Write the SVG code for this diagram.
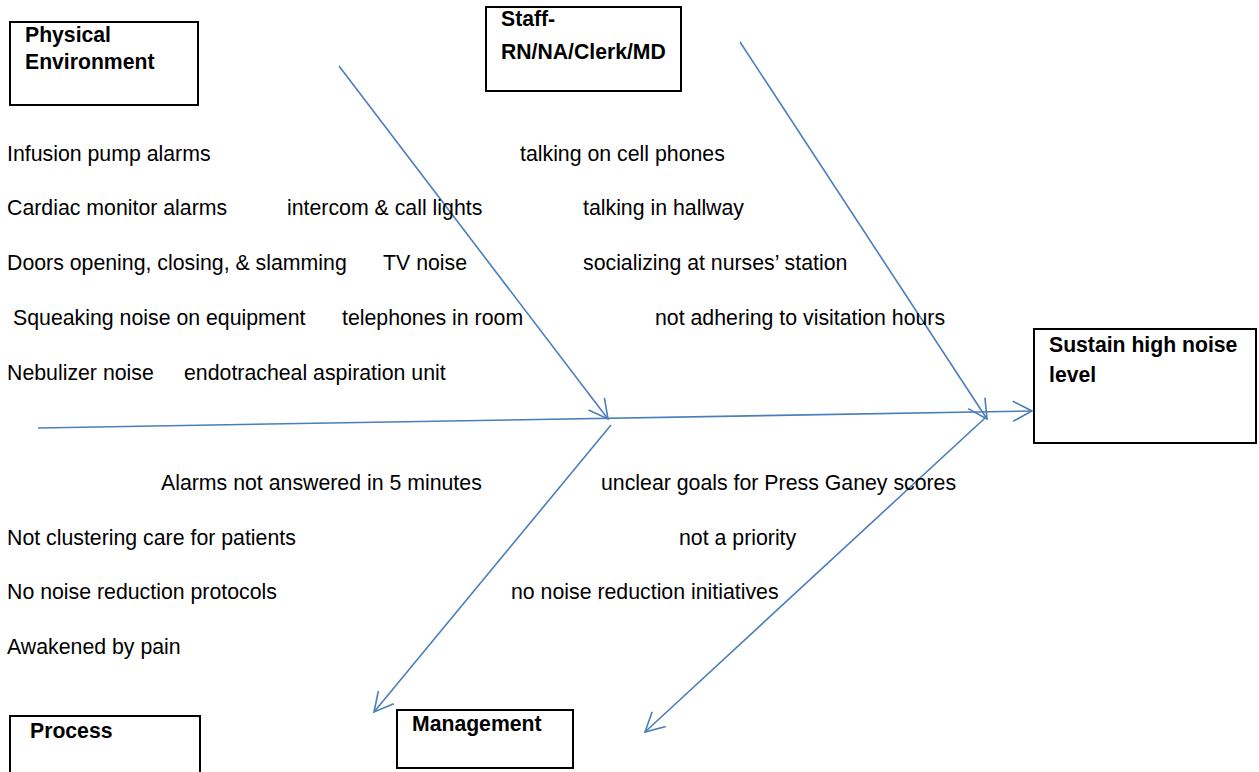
<svg xmlns="http://www.w3.org/2000/svg" width="1259" height="772" viewBox="0 0 1259 772">
<style>
.box{fill:#fff;stroke:#000;stroke-width:2}
.bl{font-family:"Liberation Sans",Arial,sans-serif;font-size:21.2px;font-weight:bold;fill:#000}
.t{font-family:"Liberation Sans",Arial,sans-serif;font-size:21.3px;fill:#000}
.ln{fill:none;stroke:#4a7ebb;stroke-width:1.6;marker-end:url(#arr)}
</style>
<defs>
<marker id="arr" viewBox="0 0 22 22" refX="21" refY="11" markerWidth="22" markerHeight="22" markerUnits="userSpaceOnUse" orient="auto">
<path d="M2,1 L21,11 L2,21" fill="none" stroke="#4a7ebb" stroke-width="1.6"/>
</marker>
</defs>
<rect width="1259" height="772" fill="#fff"/>
<g id="connectors">
<line class="ln" x1="38" y1="428" x2="1032" y2="411"/>
<line class="ln" x1="339" y1="66" x2="608" y2="419"/>
<line class="ln" x1="740" y1="42" x2="987" y2="419"/>
<line class="ln" x1="611" y1="425" x2="374" y2="712"/>
<line class="ln" x1="985" y1="418" x2="645" y2="732"/>
</g>
<g id="physical-environment">
<rect class="box" x="10" y="22" width="188" height="83"/>
<text class="bl" x="25" y="42">Physical</text>
<text class="bl" x="25" y="69">Environment</text>
</g>
<g id="staff">
<rect class="box" x="486" y="7" width="195" height="84"/>
<text class="bl" x="501" y="26">Staff-</text>
<text class="bl" x="501" y="59">RN/NA/Clerk/MD</text>
</g>
<g id="sustain-high-noise-level">
<rect class="box" x="1034" y="329" width="222" height="114"/>
<text class="bl" x="1049" y="352">Sustain high noise</text>
<text class="bl" x="1049" y="382">level</text>
</g>
<g id="process">
<rect class="box" x="10" y="716" width="190" height="62"/>
<text class="bl" x="30" y="738">Process</text>
</g>
<g id="management">
<rect class="box" x="397" y="710" width="176" height="58"/>
<text class="bl" x="412" y="731">Management</text>
</g>
<g id="causes">
<text class="t" x="7" y="161">Infusion pump alarms</text>
<text class="t" x="520" y="161">talking on cell phones</text>
<text class="t" x="7" y="215">Cardiac monitor alarms</text>
<text class="t" x="287" y="215">intercom &amp; call lights</text>
<text class="t" x="583" y="215">talking in hallway</text>
<text class="t" x="7" y="270">Doors opening, closing, &amp; slamming</text>
<text class="t" x="383" y="270">TV noise</text>
<text class="t" x="583" y="270">socializing at nurses’ station</text>
<text class="t" x="13" y="325">Squeaking noise on equipment</text>
<text class="t" x="342" y="325">telephones in room</text>
<text class="t" x="655" y="325">not adhering to visitation hours</text>
<text class="t" x="7" y="380">Nebulizer noise</text>
<text class="t" x="184" y="380">endotracheal aspiration unit</text>
<text class="t" x="161" y="490">Alarms not answered in 5 minutes</text>
<text class="t" x="601" y="490">unclear goals for Press Ganey scores</text>
<text class="t" x="7" y="545">Not clustering care for patients</text>
<text class="t" x="679" y="545">not a priority</text>
<text class="t" x="7" y="599">No noise reduction protocols</text>
<text class="t" x="511" y="599">no noise reduction initiatives</text>
<text class="t" x="7" y="654">Awakened by pain</text>
</g>
</svg>
